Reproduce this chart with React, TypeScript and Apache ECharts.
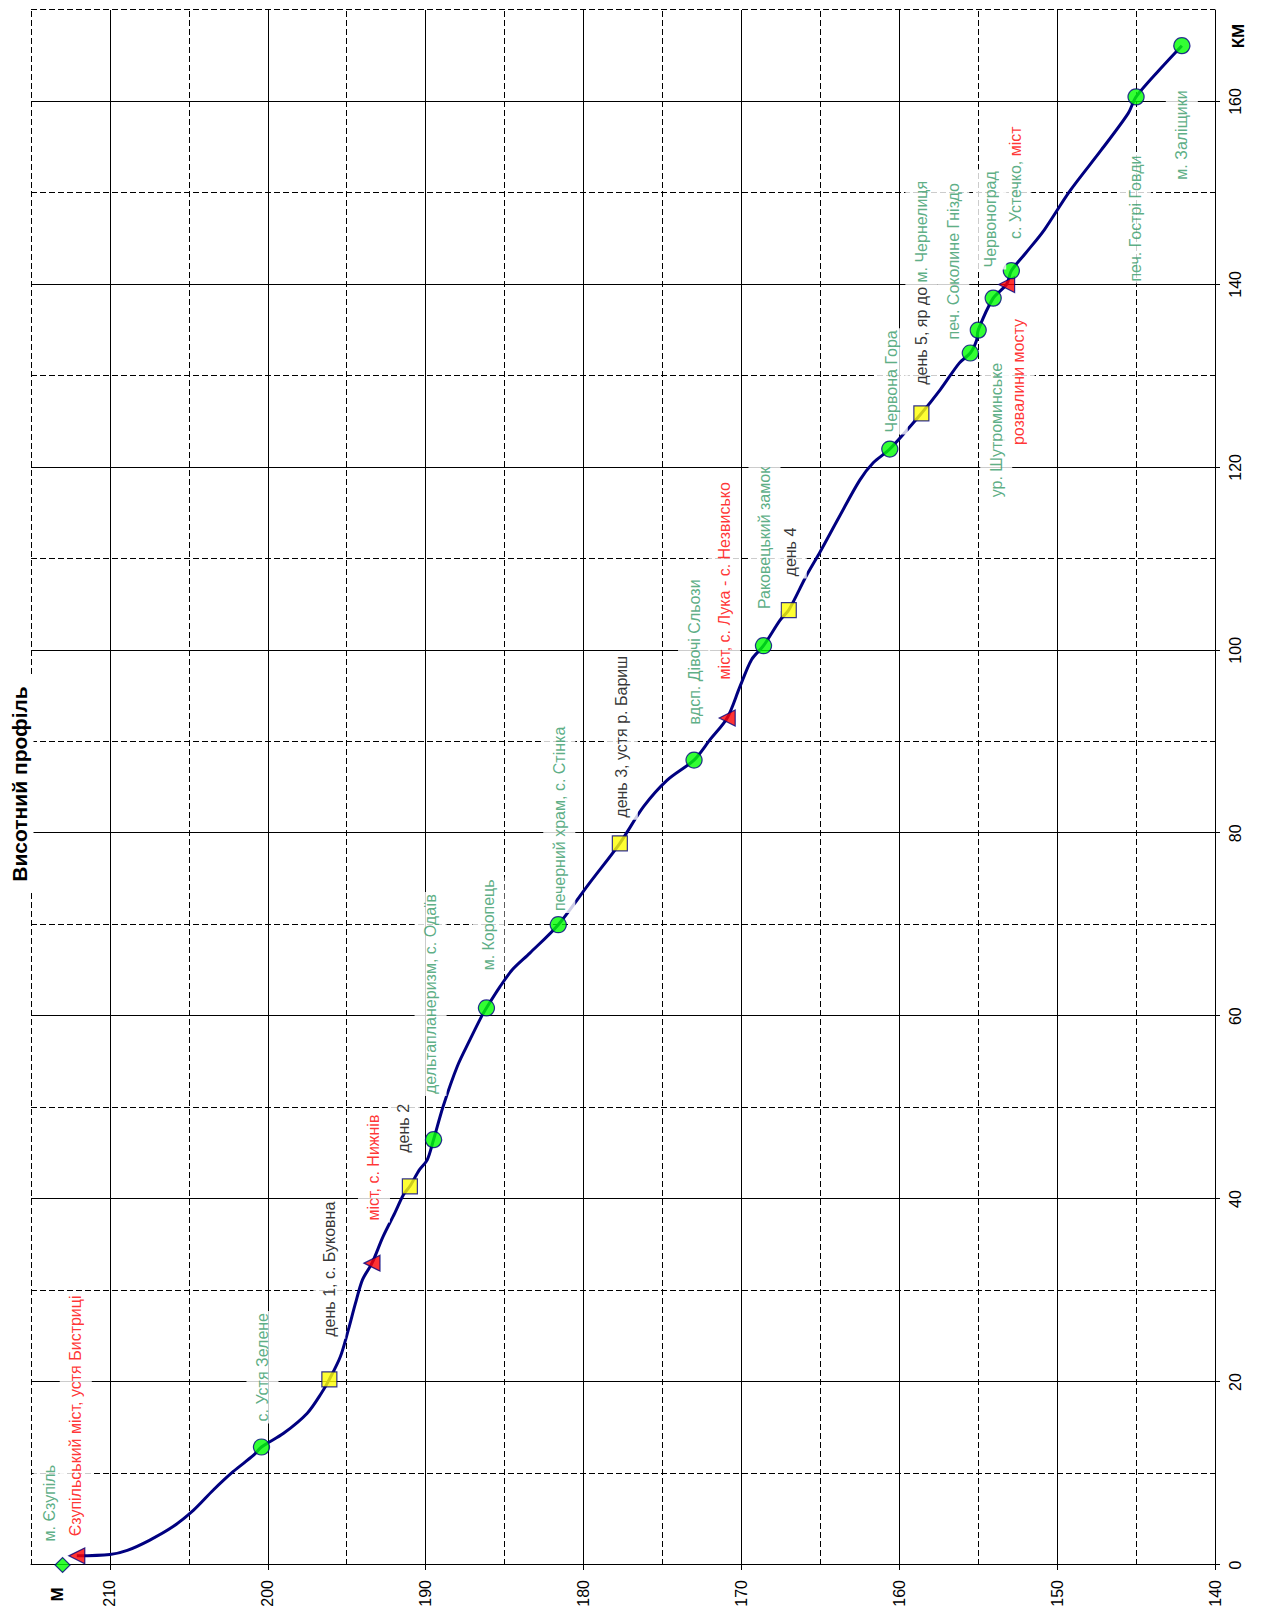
import React, { useEffect, useRef } from "react";
import * as echarts from "echarts";

// Axis ticks
const kmTicks = [0, 20, 40, 60, 80, 100, 120, 140, 160];
const elevTicks = [140, 150, 160, 170, 180, 190, 200, 210];

// Route profile (km along river, elevation m)
const routeKm = [1.0, 1.15, 1.6, 2.7, 4.2, 6.0, 8.2, 10.2, 12.0, 12.9, 14.4, 16.6, 18.8, 20.3, 22.8, 25.7, 28.6, 31.2, 33.0, 35.9, 38.5, 40.5, 41.4, 43.2, 44.3, 46.5, 50.1, 54.5, 57.4, 60.0, 60.9, 63.2, 65.1, 66.9, 70.0, 74.6, 78.9, 82.9, 85.8, 88.0, 90.2, 92.6, 96.0, 99.0, 100.5, 103.3, 104.4, 108.1, 110.8, 114.6, 118.6, 120.5, 122.0, 125.9, 128.5, 131.4, 132.5, 133.9, 135.0, 138.5, 140.0, 141.5, 143.4, 146.0, 150.2, 154.7, 158.7, 160.5, 163.5, 166.1];
const routeElev = [212.1, 210.0, 208.9, 207.5, 206.0, 204.7, 203.45, 202.2, 200.9, 200.4, 199.0, 197.5, 196.6, 196.1, 195.4, 194.9, 194.45, 194.0, 193.4, 192.7, 191.95, 191.4, 191.0, 190.4, 189.9, 189.5, 188.9, 188.0, 187.2, 186.45, 186.15, 185.3, 184.5, 183.4, 181.6, 179.6, 177.7, 176.2, 174.7, 173.0, 172.0, 170.9, 170.1, 169.35, 168.6, 167.55, 167.0, 165.9, 165.0, 163.8, 162.5, 161.65, 160.6, 158.6, 157.4, 156.2, 155.5, 155.1, 155.0, 154.05, 153.2, 152.9, 152.0, 150.8, 149.2, 147.2, 145.5, 145.0, 143.5, 142.1];

// Stops along the route
const stopKm = [0, 1.0, 12.9, 20.3, 33.0, 41.4, 46.5, 60.9, 70.0, 78.9, 88.0, 92.6, 100.5, 104.4, 122.0, 125.9, 132.5, 135.0, 138.5, 140.0, 141.5, 160.5, 166.1];
const stopElev = [213.0, 212.1, 200.4, 196.1, 193.4, 191.0, 189.5, 186.15, 181.6, 177.7, 173.0, 170.9, 168.6, 167.0, 160.6, 158.6, 155.5, 155.0, 154.05, 153.2, 152.9, 145.0, 142.1];
const stopKind = ["start", "bridge", "place", "day", "bridge", "day", "place", "place", "place", "day", "place", "bridge", "place", "day", "place", "day", "place", "place", "place", "bridge", "place", "place", "place"];
const stopLabel: Array<Array<[string, string]>> = [
  [["м. Єзупіль", "g"]],
  [["Єзупільський міст, устя Бистриці", "r"]],
  [["с. Устя Зелене", "g"]],
  [["день 1, с. Буковна", "k"]],
  [["міст, с. Нижнів", "r"]],
  [["день 2", "k"]],
  [["дельтапланеризм, с. Одаїв", "g"]],
  [["м. Коропець", "g"]],
  [["печерний храм, с. Стінка", "g"]],
  [["день 3, устя р. Бариш", "k"]],
  [["вдсп. Дівочі Сльози", "g"]],
  [["міст, с. Лука - с. Незвисько", "r"]],
  [["Раковецький замок", "g"]],
  [["день 4", "k"]],
  [["Червона Гора", "g"]],
  [["день 5, яр до ", "k"], ["м. Чернелиця", "g"]],
  [["печ. Соколине Гніздо", "g"]],
  [["ур. Шутроминське", "g"]],
  [["Червоноград", "g"]],
  [["розвалини мосту", "r"]],
  [["с. Устечко, ", "g"], ["міст", "r"]],
  [["печ. Гострі Говди", "g"]],
  [["м. Заліщики", "g"]],
];

// Label placement (side of marker, gap from marker centre to text, vertical shift)
const labelSide = ["right", "right", "right", "right", "right", "right", "right", "right", "right", "right", "right", "right", "right", "right", "right", "right", "right", "left", "right", "left", "right", "left", "left"];
const labelGap = [23, 19, 25, 42, 42, 33, 45, 37, 13, 25, 35, 38, 36, 33, 16, 28, 13, 32, 30, 34, 31, 58, 44];
const labelShift = [-13, -1, 1, 0, 2, -6, -3, 2, 1, 2, 0, -3, 1, 2, 2, 0, -17, 18, -3, 12, 4, -1, 0];

const kindStyle: Record<string, { symbol: string; color: string; size: number }> = {
  start: { symbol: "diamond", color: "#00ff00", size: 15 },
  bridge: { symbol: "triangle", color: "#ff0000", size: 16 },
  place: { symbol: "circle", color: "#00ff00", size: 16 },
  day: { symbol: "rect", color: "#ffff00", size: 15 },
};

const FONT = "'Liberation Sans', Arial, sans-serif";
const NAVY = "#000080";

function buildOption() {
  const rich = {
    g: { color: "#339966", fontSize: 16, lineHeight: 18, fontFamily: FONT },
    r: { color: "#ff0000", fontSize: 16, lineHeight: 18, fontFamily: FONT },
    k: { color: "#000000", fontSize: 16, lineHeight: 18, fontFamily: FONT },
  };
  const stops = stopKm.map((km, i) => {
    const ks = kindStyle[stopKind[i]];
    return {
      value: [km, stopElev[i]],
      symbol: ks.symbol,
      symbolSize: ks.size,
      itemStyle: { color: ks.color, borderColor: NAVY, borderWidth: 1.2 },
      label: {
        show: true,
        position: labelSide[i],
        distance: labelGap[i] - ks.size / 2 - 2,
        offset: [0, labelShift[i]],
        formatter: stopLabel[i].map(([t, c]) => `{${c}|${t}}`).join(""),
        backgroundColor: "#ffffff",
        padding: [7, 2],
        rich,
      },
    };
  });

  return {
    animation: false,
    backgroundColor: "#ffffff",
    textStyle: { fontFamily: FONT },
    grid: { left: 45, right: 10, top: 31, bottom: 47, containLabel: false },
    xAxis: [
      {
        type: "value",
        min: 0,
        max: 170,
        interval: 20,
        position: "bottom",
        axisLine: { show: true, onZero: false, lineStyle: { color: "#000", width: 1 } },
        axisTick: { show: true, length: 5, inside: false, lineStyle: { color: "#000" }, customValues: kmTicks },
        axisLabel: { show: true, color: "#000", fontSize: 16, margin: 12, customValues: kmTicks, fontFamily: FONT },
        splitLine: { show: true, lineStyle: { color: "#000", width: 1, type: "solid" } },
      },
      {
        type: "value",
        min: 0,
        max: 170,
        interval: 10,
        position: "top",
        axisLine: { show: false },
        axisTick: { show: false },
        axisLabel: { show: false },
        splitLine: { show: true, lineStyle: { color: "#000", width: 1, type: [6, 3] } },
      },
    ],
    yAxis: [
      {
        type: "value",
        min: 140,
        max: 215,
        interval: 10,
        position: "left",
        axisLine: { show: true, onZero: false, lineStyle: { color: "#000", width: 1 } },
        axisTick: { show: true, length: 5, inside: false, lineStyle: { color: "#000" }, customValues: elevTicks },
        axisLabel: { show: true, color: "#000", fontSize: 16, margin: 15, customValues: elevTicks, fontFamily: FONT },
        splitLine: { show: true, lineStyle: { color: "#000", width: 1, type: "solid" } },
      },
      {
        type: "value",
        min: 140,
        max: 215,
        interval: 5,
        position: "right",
        axisLine: { show: false },
        axisTick: { show: false },
        axisLabel: { show: false },
        splitLine: { show: true, lineStyle: { color: "#000", width: 1, type: [6, 3] } },
      },
    ],
    series: [
      {
        type: "line",
        xAxisIndex: 0,
        yAxisIndex: 0,
        data: routeKm.map((k, i) => [k, routeElev[i]]),
        smooth: 0.3,
        showSymbol: false,
        symbol: "none",
        silent: true,
        lineStyle: { color: NAVY, width: 3 },
        z: 3,
      },
      {
        type: "scatter",
        xAxisIndex: 0,
        yAxisIndex: 0,
        data: stops,
        silent: true,
        z: 4,
      },
    ],
    graphic: [
      {
        type: "text",
        x: 826,
        y: 19,
        z: 100,
        style: {
          text: "Висотний профіль",
          font: `bold 21px ${FONT}`,
          fill: "#000",
          align: "center",
          verticalAlign: "middle",
          backgroundColor: "#fff",
          padding: [4, 10],
        },
      },
      {
        type: "text",
        x: 15.5,
        y: 57,
        z: 100,
        style: { text: "М", font: `bold 17px ${FONT}`, fill: "#000", align: "center", verticalAlign: "middle" },
      },
      {
        type: "text",
        x: 1574,
        y: 1238,
        z: 100,
        style: { text: "КМ", font: `bold 17px ${FONT}`, fill: "#000", align: "center", verticalAlign: "middle" },
      },
    ],
  };
}

export default function App() {
  const ref = useRef<HTMLDivElement>(null);
  useEffect(() => {
    if (!ref.current) return;
    const chart = echarts.init(ref.current, null, { renderer: "svg", width: 1610, height: 1262 });
    chart.setOption(buildOption() as any);
    return () => chart.dispose();
  }, []);
  return (
    <div style={{ position: "absolute", left: 0, top: 0, width: 1262, height: 1610, overflow: "hidden", background: "#fff" }}>
      <div
        ref={ref}
        style={{
          position: "absolute",
          left: 0,
          top: 0,
          width: 1610,
          height: 1262,
          transformOrigin: "0 0",
          transform: "translateY(1610px) rotate(-90deg)",
        }}
      />
    </div>
  );
}
